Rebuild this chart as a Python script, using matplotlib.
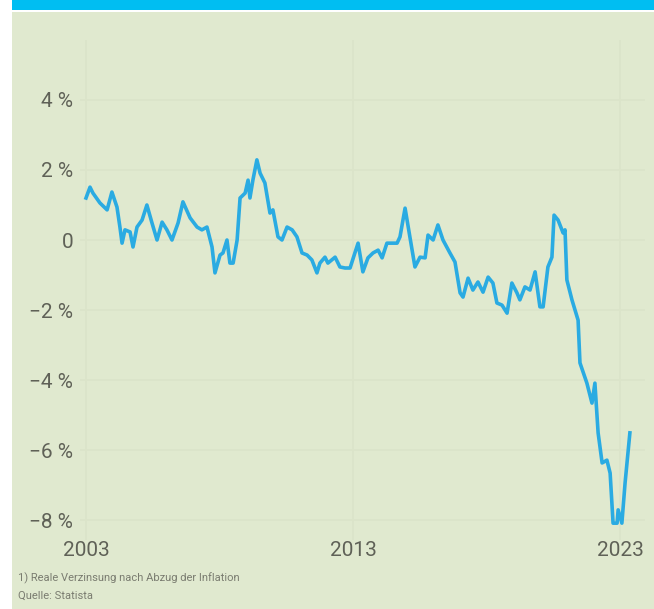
import matplotlib
matplotlib.use('Agg')
import matplotlib.pyplot as plt
from matplotlib.patches import Rectangle

years = [2003.0, 2003.15, 2003.26, 2003.52, 2003.79, 2003.97, 2004.16, 2004.27, 2004.35, 2004.46,
         2004.65, 2004.76, 2004.91, 2005.10, 2005.28, 2005.47, 2005.66, 2005.85, 2006.03, 2006.22,
         2006.45, 2006.63, 2006.90, 2007.16, 2007.34, 2007.53, 2007.72, 2007.83, 2008.02, 2008.13,
         2008.28, 2008.39, 2008.51, 2008.66, 2008.77, 2008.96, 2009.07, 2009.14, 2009.25, 2009.40,
         2009.52, 2009.70, 2009.89, 2010.00, 2010.19, 2010.34, 2010.53, 2010.72, 2010.90, 2011.09,
         2011.28, 2011.46, 2011.65, 2011.76, 2011.95, 2012.06, 2012.33, 2012.51, 2012.70, 2012.89,
         2013.07, 2013.19, 2013.37, 2013.56, 2013.75, 2013.94, 2014.09, 2014.27, 2014.46, 2014.65,
         2014.76, 2014.95, 2015.13, 2015.32, 2015.51, 2015.70, 2015.81, 2016.00, 2016.18, 2016.37,
         2016.63, 2016.82, 2017.01, 2017.12, 2017.31, 2017.49, 2017.68, 2017.87, 2018.06, 2018.24,
         2018.39, 2018.58, 2018.77, 2018.95, 2019.14, 2019.25, 2019.44, 2019.63, 2019.82, 2020.00,
         2020.12, 2020.30, 2020.45, 2020.53, 2020.68, 2020.87, 2020.94, 2021.01, 2021.20, 2021.43,
         2021.50, 2021.76, 2021.95, 2022.06, 2022.18, 2022.33, 2022.51, 2022.63, 2022.74, 2022.89,
         2022.93, 2023.07, 2023.19, 2023.37]
rates = [1.2, 1.51, 1.34, 1.06, 0.86, 1.37, 0.94, 0.37, -0.09, 0.29,
         0.23, -0.2, 0.37, 0.57, 1.0, 0.49, 0.0, 0.51, 0.29, 0.0,
         0.49, 1.09, 0.63, 0.37, 0.29, 0.37, -0.2, -0.94, -0.43, -0.37,
         0.0, -0.66, -0.66, 0.0, 1.2, 1.34, 1.71, 1.2, 1.71, 2.29,
         1.91, 1.63, 0.77, 0.86, 0.09, 0.0, 0.37, 0.29, 0.09, -0.37,
         -0.43, -0.57, -0.94, -0.66, -0.49, -0.66, -0.49, -0.77, -0.8, -0.8,
         -0.37, -0.09, -0.91, -0.51, -0.37, -0.29, -0.51, -0.09, -0.09, -0.09,
         0.09, 0.91, 0.09, -0.77, -0.49, -0.51, 0.14, 0.0, 0.43, 0.0,
         -0.37, -0.63, -1.51, -1.63, -1.09, -1.43, -1.2, -1.49, -1.06, -1.23,
         -1.8, -1.86, -2.09, -1.23, -1.51, -1.71, -1.34, -1.43, -0.91, -1.91,
         -1.91, -0.77, -0.49, 0.71, 0.57, 0.2, 0.29, -1.14, -1.71, -2.29,
         -3.51, -4.09, -4.66, -4.09, -5.51, -6.37, -6.29, -6.66, -8.09, -8.09,
         -7.71, -8.09, -6.94, -5.51]

y_ticks = [4, 2, 0, -2, -4, -6, -8]
y_labels = ['4 %', '2 %', '0', '\u22122 %', '\u22124 %', '\u22126 %', '\u22128 %']
x_ticks = [2003, 2013, 2023]
x_labels = ['2003', '2013', '2023']

bg = '#e0e9cf'
line_col = '#2aabe2'
text_col = '#5f6157'
fonts = ['Roboto', 'DejaVu Sans']

fig = plt.figure(figsize=(6.54, 6.09), dpi=100, facecolor='white')
W, H = 654, 609
# background panel and top bar
fig.patches.append(Rectangle((12 / W, 0), 1, 1 - 12 / H, transform=fig.transFigure,
                             facecolor=bg, edgecolor='none', zorder=-2))
fig.patches.append(Rectangle((12 / W, 1 - 10 / H), 1, 10 / H, transform=fig.transFigure,
                             facecolor='#00bef2', edgecolor='none', zorder=-2))

ax = fig.add_axes([80 / W, 1 - 540 / H, 565 / W, 500 / H])
ax.set_zorder(2)
ax.set_facecolor('none')
ax.plot(years, rates, color=line_col, lw=2.6, solid_joinstyle='round', zorder=3)

ax.set_xlim(2002.775, 2023.936)
ax.set_ylim(-8.571, 5.714)
ax.set_yticks(y_ticks)
ax.set_yticklabels(y_labels)
ax.set_xticks(x_ticks)
ax.set_xticklabels(x_labels)
for lab in ax.get_xticklabels() + ax.get_yticklabels():
    lab.set_family(fonts)
    lab.set_fontsize(15)
    lab.set_color(text_col)
ax.tick_params(length=0, pad=5)
ax.tick_params(axis='x', pad=1)
for s in ax.spines.values():
    s.set_visible(False)
ax.grid(True, color='#dbe4c9', lw=1.2, zorder=1)

fig.text(18 / W, 1 - 578 / H, '1) Reale Verzinsung nach Abzug der Inflation', family=fonts,
         fontsize=8, color='#7a7c70', va='center')
fig.text(18 / W, 1 - 596 / H, 'Quelle: Statista', family=fonts,
         fontsize=8, color='#7a7c70', va='center')

fig.savefig('out.png', dpi=100, facecolor='white')
